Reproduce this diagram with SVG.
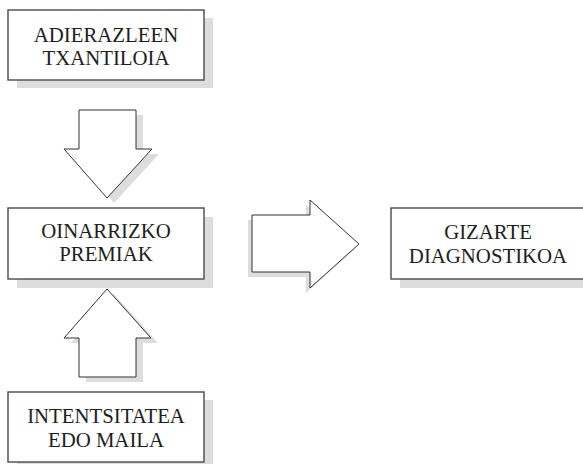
<svg xmlns="http://www.w3.org/2000/svg" width="583" height="464" viewBox="0 0 583 464">
<style>
.sh{fill:#dcdddf;stroke:none}
.box{fill:#fff;stroke:#4a4a4a;stroke-width:1.4}
.arr{fill:#fff;stroke:#333;stroke-width:1}
text{font-family:"Liberation Serif","Times New Roman",serif;font-size:20.8px;fill:#1e1e1e;text-anchor:middle}
</style>
<rect width="583" height="464" fill="#fff"/>
<g id="connectors">
<g id="arrow-down">
<polygon class="sh" points="86,115 143,115 143,154 159,154 114,203 71,154 86,154"/>
<polygon class="arr" points="79,110 136,110 136,149 152,149 107,198 64,149 79,149"/>
</g>
<g id="arrow-up">
<polygon class="sh" points="114,294 158,343 143,343 143,382 86,382 86,343 71,343"/>
<polygon class="arr" points="107,289 151,338 136,338 136,377 79,377 79,338 64,338"/>
</g>
<g id="arrow-right">
<polygon class="sh" points="248,220 306,220 306,205 355,249 306,293 306,277 248,277"/>
<polygon class="arr" points="252,215 310,215 310,200 359,244 310,288 310,272 252,272"/>
</g>
</g>
<g id="node-adierazleen">
<rect class="sh" x="17" y="18" width="196" height="70"/>
<rect class="box" x="8" y="10" width="196" height="70"/>
<text x="106" y="42">ADIERAZLEEN</text>
<text x="106" y="65">TXANTILOIA</text>
</g>
<g id="node-oinarrizko">
<rect class="sh" x="17" y="217" width="196" height="71"/>
<rect class="box" x="8" y="208" width="196" height="71"/>
<text x="106" y="238">OINARRIZKO</text>
<text x="106" y="261">PREMIAK</text>
</g>
<g id="node-intentsitatea">
<rect class="sh" x="17" y="400" width="196" height="70"/>
<rect class="box" x="8" y="392" width="196" height="70"/>
<text x="106" y="423">INTENTSITATEA</text>
<text x="106" y="447">EDO MAILA</text>
</g>
<g id="node-gizarte">
<rect class="sh" x="400" y="217" width="196" height="71"/>
<rect class="box" x="391" y="208" width="200" height="71"/>
<text x="488" y="239">GIZARTE</text>
<text x="488" y="263">DIAGNOSTIKOA</text>
</g>
</svg>
